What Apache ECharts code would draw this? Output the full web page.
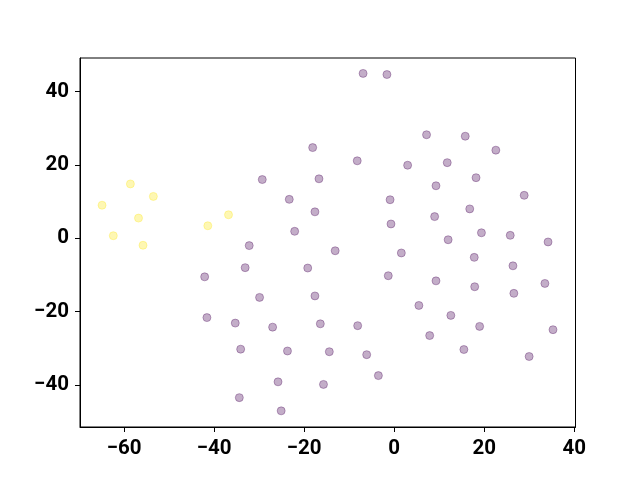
<!DOCTYPE html>
<html>
<head>
<meta charset="utf-8">
<script src="https://cdn.jsdelivr.net/npm/echarts@6/dist/echarts.min.js"></script>
<style>html,body{margin:0;padding:0;background:#fff}#c{width:640px;height:480px}</style>
</head>
<body>
<div id="c"></div>
<script>
// Cluster 0 (purple)
const purpleX = [-6.9,-1.6,-18.1,-8.2,3.0,-29.3,-16.7,-23.3,-0.9,-17.6,-0.7,-22.1,7.2,15.8,22.6,11.8,18.2,9.3,28.9,9.0,16.8,12.0,19.4,25.8,34.2,
  -32.2,-33.1,-42.1,-41.6,-35.3,-34.1,-34.4,-13.1,1.6,-19.2,-1.3,-29.9,-17.6,-27.0,-16.4,-8.1,-23.7,-14.4,-6.1,-3.5,-25.8,-15.7,-25.1,
  17.8,26.4,9.3,17.9,33.5,26.6,5.5,12.6,19.0,35.3,7.9,15.5,30.0];
const purpleY = [44.9,44.6,24.7,21.1,19.9,16.0,16.2,10.6,10.5,7.2,3.9,1.9,28.2,27.8,24.0,20.6,16.5,14.3,11.7,5.9,8.0,-0.4,1.5,0.8,-1.0,
  -2.0,-8.0,-10.5,-21.6,-23.1,-30.2,-43.4,-3.4,-4.0,-8.1,-10.2,-16.1,-15.7,-24.2,-23.3,-23.8,-30.7,-30.9,-31.7,-37.4,-39.1,-39.8,-47.0,
  -5.2,-7.5,-11.6,-13.2,-12.3,-15.0,-18.3,-21.0,-24.0,-24.9,-26.5,-30.3,-32.2];
// Cluster 1 (yellow)
const yellowX = [-58.6,-53.5,-64.9,-56.8,-36.8,-41.4,-62.4,-55.8];
const yellowY = [14.8,11.4,9.0,5.5,6.4,3.4,0.7,-1.9];

const xTicks = [-60,-40,-20,0,20,40];
const yTicks = [-40,-20,0,20,40];

const fmt = v => (v < 0 ? '\u2212' + Math.abs(v) : String(v));
const zip = (a, b) => a.map((v, i) => [v, b[i]]);

const labelStyle = { color: '#000', fontFamily: 'Roboto', fontWeight: 'bold', fontSize: 20.5 };

const chart = echarts.init(document.getElementById('c'), null, { renderer: 'canvas' });
chart.setOption({
  animation: false,
  backgroundColor: '#fff',
  grid: { left: 80, right: 64.5, top: 58, bottom: 53, show: true, borderColor: '#000', borderWidth: 1, backgroundColor: 'transparent' },
  xAxis: {
    type: 'value', min: -69.8, max: 40.3,
    axisLine: { show: true, onZero: false, lineStyle: { color: '#000', width: 1 } },
    axisTick: { show: true, inside: false, length: 5, lineStyle: { color: '#000' }, customValues: xTicks },
    axisLabel: Object.assign({ margin: 11, formatter: fmt, customValues: xTicks }, labelStyle),
    splitLine: { show: false }
  },
  yAxis: {
    type: 'value', min: -51.4, max: 49.1,
    axisLine: { show: true, onZero: false, lineStyle: { color: '#000', width: 1 } },
    axisTick: { show: true, inside: false, length: 5, lineStyle: { color: '#000' }, customValues: yTicks },
    axisLabel: Object.assign({ margin: 11, formatter: fmt, customValues: yTicks }, labelStyle),
    splitLine: { show: false }
  },
  series: [
    {
      type: 'scatter', symbol: 'circle', symbolSize: 8,
      data: zip(purpleX, purpleY),
      itemStyle: { color: 'rgba(68,1,84,0.32)', borderColor: 'rgba(68,1,84,0.32)', borderWidth: 1, opacity: 1 }
    },
    {
      type: 'scatter', symbol: 'circle', symbolSize: 8,
      data: zip(yellowX, yellowY),
      itemStyle: { color: 'rgba(253,231,37,0.35)', borderColor: 'rgba(253,231,37,0.35)', borderWidth: 1, opacity: 1 }
    }
  ]
});
</script>
</body>
</html>
